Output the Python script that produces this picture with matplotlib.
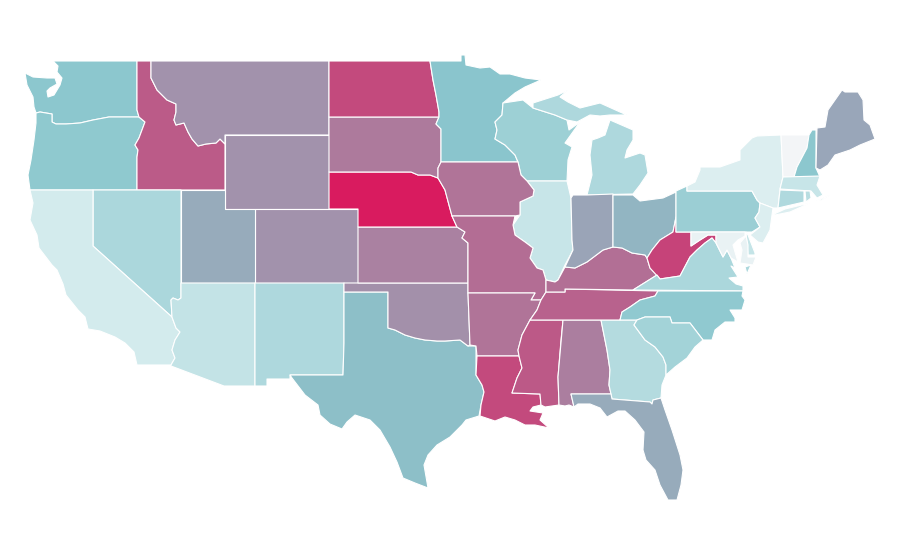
# choropleth of the lower 48, outlines (pixel coordinates)
import matplotlib
matplotlib.use('Agg')
import matplotlib.pyplot as plt
from matplotlib.colors import LinearSegmentedColormap

WA = [[(53,61),(137,61),(137,110),(139,117),(109,117),(93,120),(80,123),(66,124),(56,124),(52,122),(52,114),(40,112),(36,113),(34,107),(33,97),(27,85),(25,73),(33,77),(47,78),(55,78),(57,84),(50,88),(47,91),(48,97),(54,95),(60,85),(62,78),(57,72),(58,66)]]
OR = [[(36,113),(40,112),(52,114),(52,122),(56,124),(66,124),(80,123),(93,120),(109,117),(139,117),(145,122),(142,130),(139,138),(135,145),(138,150),(137,157),(137,190),(30,190),(28,175),(31,160),(34,140),(36,123)]]
ID = [[(137,61),(151,61),(151,78),(157,90),(167,100),(176,104),(176,112),(174,120),(176,125),(184,123),(188,132),(192,139),(198,146),(206,144),(216,143),(220,139),(225,144),(225,190),(137,190),(137,157),(138,150),(135,145),(139,138),(142,130),(145,122),(139,117),(137,110)]]
MT = [[(151,61),(329,61),(329,135),(225,135),(225,144),(220,139),(216,143),(206,144),(198,146),(192,139),(188,132),(184,123),(176,125),(174,120),(176,112),(176,104),(167,100),(157,90),(151,78)]]
WY = [[(225,135),(329,135),(329,209),(225,209)]]
CO = [[(255,209),(358,209),(358,283),(255,283)]]
UT = [[(181,190),(225,190),(225,209),(255,209),(255,283),(181,283)]]
NV = [[(93,190),(181,190),(181,298),(178,300),(173,298),(171,300),(172,317),(93,246)]]
CA = [[(30,190),(93,190),(93,246),(172,317),(176,328),(180,332),(175,340),(172,350),(175,358),(171,365),(137,365),(134,352),(125,343),(115,337),(100,331),(88,329),(85,317),(78,310),(66,295),(63,284),(57,270),(52,265),(39,248),(37,235),(30,220),(33,203)]]
AZ = [[(181,283),(255,283),(255,386),(224,386),(171,366),(171,365),(175,358),(172,350),(175,340),(180,332),(176,328),(172,317),(171,300),(173,298),(178,300),(181,298)]]
NM = [[(255,283),(344,283),(344,343),(343,375),(290,375),(290,379),(267,379),(267,386),(255,386)]]
TX = [[(344,292),(388,292),(388,328),(395,330),(405,335),(415,338),(425,340),(437,341),(445,341),(460,340),(468,346),(476,346),(476,375),(482,385),(484,392),(481,405),(479,416),(466,420),(462,425),(450,437),(437,445),(428,455),(424,465),(428,488),(415,483),(403,478),(397,462),(390,447),(380,430),(370,420),(355,415),(347,422),(342,429),(330,424),(320,415),(318,405),(305,395),(292,378),(290,375),(343,375),(344,343)]]
OK = [[(344,283),(468,283),(468,293),(470,345),(468,346),(460,340),(445,341),(437,341),(425,340),(415,338),(405,335),(395,330),(388,328),(388,292),(344,292)]]
KS = [[(358,227),(457,227),(465,232),(462,238),(468,243),(468,283),(358,283)]]
NE = [[(329,172),(411,172),(418,175),(430,175),(438,178),(445,190),(449,205),(452,216),(457,227),(358,227),(358,209),(329,209)]]
SD = [[(329,117),(439,117),(436,124),(441,129),(441,162),(438,168),(438,178),(430,175),(418,175),(411,172),(329,172)]]
ND = [[(329,61),(430,61),(433,80),(436,95),(439,112),(439,117),(329,117)]]
MN = [[(430,61),(461,61),(461,55),(465,55),(466,65),(480,68),(490,67),(500,74),(510,74),(525,78),(541,80),(525,87),(515,93),(503,103),(502,115),(495,122),(497,130),(495,139),(505,145),(515,155),(518,162),(441,162),(441,129),(436,124),(439,117),(439,112),(436,95),(433,80)]]
WI = [[(503,103),(523,100),(533,108),(555,115),(567,120),(569,130),(580,122),(565,143),(572,147),(568,160),(567,181),(527,181),(521,175),(518,162),(515,155),(505,145),(495,139),(497,130),(495,122),(502,115)]]
MI = [[(533,103),(558,95),(568,90),(560,97),(568,102),(580,108),(600,103),(620,112),(627,115),(610,115),(600,116),(590,115),(577,122),(567,120),(555,115),(533,108)],
      [(587,195),(633,194),(640,185),(648,173),(645,155),(640,153),(625,158),(627,150),(633,140),(633,130),(610,120),(605,135),(598,138),(592,140),(590,155),(592,175)]]
IL = [[(527,181),(567,181),(571,198),(572,240),(573,250),(565,265),(558,280),(555,282),(546,280),(543,270),(537,268),(530,258),(533,248),(525,242),(515,235),(513,225),(520,215),(520,202),(533,196),(534,190)]]
IA = [[(441,162),(518,162),(521,175),(527,181),(534,190),(533,196),(520,202),(520,215),(515,216),(452,216),(449,205),(445,190),(438,178),(438,168)]]
MO = [[(452,216),(515,216),(513,225),(515,235),(525,242),(533,248),(530,258),(537,268),(543,270),(546,280),(546,292),(541,300),(531,300),(535,293),(468,293),(468,243),(462,238),(465,232),(457,227)]]
AR = [[(468,293),(535,293),(531,300),(541,300),(537,310),(530,320),(522,335),(518,350),(519,356),(477,356),(476,346),(470,345)]]
LA = [[(477,356),(519,356),(522,368),(517,378),(512,393),(540,394),(541,405),(533,407),(530,411),(543,413),(540,420),(549,428),(535,425),(525,425),(515,420),(505,417),(495,421),(480,416),(481,405),(484,392),(482,385),(476,375)]]
MS = [[(530,320),(563,320),(561,340),(558,377),(559,405),(545,407),(541,405),(540,394),(512,393),(517,378),(522,368),(519,356),(518,350),(522,335)]]
AL = [[(563,320),(601,320),(607,350),(610,370),(609,385),(611,394),(571,394),(574,407),(569,405),(565,406),(559,405),(558,377)]]
GA = [[(601,320),(637,320),(634,325),(645,340),(655,347),(663,357),(666,365),(666,375),(662,385),(661,398),(653,400),(652,404),(650,402),(612,399),(611,394),(609,385),(610,370),(607,350)]]
FL = [[(571,394),(611,394),(612,399),(650,402),(652,404),(653,400),(661,398),(665,410),(672,430),(680,455),(683,470),(681,485),(677,500),(668,500),(660,485),(655,470),(646,460),(643,450),(644,432),(635,420),(625,411),(618,411),(607,417),(600,408),(590,404),(578,404),(574,407)]]
TN = [[(530,320),(537,310),(541,300),(546,292),(565,292),(565,289),(658,291),(655,296),(640,300),(630,307),(622,312),(620,320)]]
KY = [[(546,292),(546,280),(555,282),(558,280),(565,267),(575,268),(587,262),(603,250),(613,247),(622,248),(632,253),(645,255),(647,258),(650,268),(657,275),(633,290),(565,289),(565,292)]]
IN = [[(571,198),(573,195),(587,195),(613,194),(613,247),(603,250),(587,262),(575,268),(565,267),(573,250),(572,240)]]
OH = [[(613,195),(633,195),(640,201),(663,198),(676,192),(676,217),(673,232),(660,240),(652,250),(647,258),(645,255),(632,253),(622,248),(613,247)]]
WV = [[(647,258),(652,250),(660,240),(673,232),(676,217),(676,232),(691,232),(691,246),(700,240),(708,235),(716,235),(716,243),(712,238),(705,243),(697,250),(690,257),(680,276),(660,279),(650,268)]]
VA = [[(633,290),(657,275),(660,279),(680,276),(690,257),(697,250),(705,243),(712,238),(716,243),(723,257),(727,250),(731,258),(735,268),(731,266),(738,277),(729,278),(736,284),(743,286),(743,291)],
      [(747,274),(751,265),(745,267)]]
NC = [[(620,320),(622,312),(630,307),(640,300),(655,296),(658,291),(743,291),(742,296),(745,300),(742,310),(730,310),(735,318),(735,322),(725,322),(715,330),(712,340),(703,340),(690,323),(672,323),(670,317),(645,317),(637,320)]]
SC = [[(637,320),(645,317),(670,317),(672,323),(690,323),(703,340),(695,347),(687,358),(675,367),(666,375),(666,365),(663,357),(655,347),(645,340),(634,325)]]
PA = [[(676,191),(687,186),(687,191),(752,191),(757,200),(760,203),(759,212),(755,218),(760,227),(752,232),(676,232)]]
NY = [[(687,186),(695,182),(700,170),(700,167),(720,167),(740,160),(740,150),(752,138),(757,136),(781,135),(783,177),(780,189),(778,208),(773,208),(760,203),(757,200),(752,191),(687,191)],
      [(772,215),(785,209),(810,203),(790,212),(775,215)]]
VT = [[(781,135),(809,135),(807,148),(797,167),(794,177),(783,177)]]
NH = [[(812,130),(816,130),(816,168),(820,177),(794,177),(797,167),(807,148),(809,135)]]
ME = [[(817,128),(825,127),(828,110),(835,100),(842,90),(845,92),(858,92),(863,100),(864,120),(870,125),(875,139),(860,145),(850,150),(835,155),(828,165),(820,170),(816,168)]]
MA = [[(783,177),(820,176),(817,185),(823,195),(817,198),(811,191),(780,189)],
      [(816,201),(830,195),(822,200)]]
CT = [[(780,190),(804,191),(804,202),(778,208)]]
RI = [[(805,191),(810,191),(811,198),(806,202)]]
NJ = [[(760,203),(773,208),(772,215),(770,230),(763,243),(758,242),(750,235),(760,227),(755,218),(759,212)]]
DE = [[(746,232),(748,235),(755,253),(755,255),(748,255),(747,243)]]
MD = [[(691,232),(745,232),(745,236),(738,240),(733,245),(735,252),(738,262),(731,258),(727,250),(723,257),(716,243),(716,235),(708,235),(700,240),(691,246)],
      [(746,236),(748,245),(748,257),(756,257),(753,265),(740,263),(742,250),(740,243)]]

states = ['WA','OR','ID','MT','WY','CO','UT','NV','CA','AZ','NM','TX','OK','KS','NE','SD','ND','MN','WI','MI',
          'IL','IA','MO','AR','LA','MS','AL','GA','FL','TN','KY','IN','OH','WV','VA','NC','SC','PA','NY','VT',
          'NH','ME','MA','CT','RI','NJ','DE','MD']
outlines = [WA,OR,ID,MT,WY,CO,UT,NV,CA,AZ,NM,TX,OK,KS,NE,SD,ND,MN,WI,MI,
            IL,IA,MO,AR,LA,MS,AL,GA,FL,TN,KY,IN,OH,WV,VA,NC,SC,PA,NY,VT,
            NH,ME,MA,CT,RI,NJ,DE,MD]
# shade of each state on a 0-100 scale, estimated from its colour
values = [49,47.6,81,65,65,65,58,34,15,23,33,52,66,70,100,72,86,50,41,33,
          21,74,76,74,86,82,71,30,58,79,75,60,55,88,34,47,38,42,11,0,
          49,59,21,32,28,11,22,5]

cmap = LinearSegmentedColormap.from_list('teal_rose', [(0, '#f3f5f7'), (0.15, '#d3ebed'), (0.5, '#8ac6cd'), (1, '#d91b5f')])

fig = plt.figure(figsize=(9, 5.6), dpi=100)
ax = fig.add_axes([0, 0, 1, 1])
for name, rings, v in zip(states, outlines, values):
    for ring in rings:
        xs = [p[0] for p in ring]
        ys = [p[1] for p in ring]
        ax.fill(xs, ys, color=cmap(v / 100), ec='white', lw=0.8, joinstyle='round')
ax.set_xlim(0, 900)
ax.set_ylim(560, 0)
ax.axis('off')
plt.savefig('out.png', dpi=100)
